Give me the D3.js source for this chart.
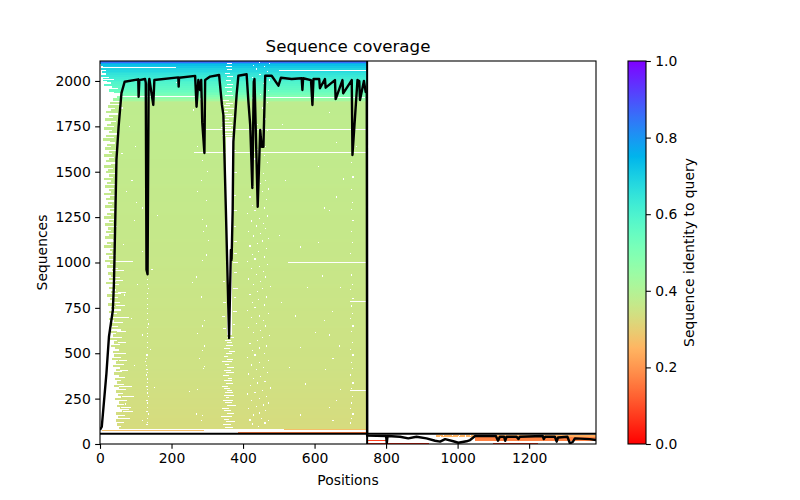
<!DOCTYPE html>
<html><head><meta charset="utf-8">
<script src="https://cdn.jsdelivr.net/npm/d3@7"></script>
<style>html,body{margin:0;background:#fff}svg{display:block}text{font-family:"DejaVu Sans",sans-serif;fill:#000}</style>
</head><body><div id="c"></div>
<script>
const titleText="Sequence coverage", xLabel="Positions", yLabel="Sequences", cbLabel="Sequence identity to query";
const xTicks=[0,200,400,600,800,1000,1200];
const yTicks=[0,250,500,750,1000,1250,1500,1750,2000];
const cbTicks=[0,0.2,0.4,0.6,0.8,1.0];
const queryLength=747, blockBoundary=56, rowBase=85, rowStep=10;
// identity by alignment depth
const identityRows=[85,200,400,700,1000,1500,1885,1908,1930,1960,2000,2040,2070,2090,2100,2110];
const identityVals=[0.33,0.335,0.345,0.352,0.36,0.37,0.378,0.46,0.52,0.56,0.60,0.65,0.69,0.73,0.77,0.86];
// where each row starts, bottom row first
const rowStarts=[52,60,48,66,45,58,50,71,44,62,80,55,47,68,52,76,42,60,50,64,46,72,54,40,66,48,58,43,70,52,38,62,46,56,36,68,44,50,34,60,40,72,35,54,42,
30,56,38,48,27,62,36,44,31,58,33,50,28,64,40,26,52,34,47,24,60,30,42,22,55,36,28,49,20,58,32,44,24,38,52,18,46,26,56,30,21,42,34,50,19,36,28,
13,38,24,46,16,34,28,42,12,30,20,44,36,15,26,40,18,32,22,48,14,36,25,42,11,30,19,38,27,44,13,34,21,40,17,28,46,12,32,24,38,15,42,20,30,10,36,26,44,16,
22,36,12,30,44,18,26,40,10,34,24,46,14,32,20,42,28,8,38,16,48,24,34,12,40,20,30,44,14,36,26,50,18,32,42,22,55,28,60,35,
48,56,60,40,26,50,34,12,30,20,8,24,4,16,6,18,3,8,2,0,0];
// extra short alignments [from,to,rowLow,rowHigh,identity]
const lowBlocks=[[5,290,70,75,0.27],[387,747,63,68,0.16],[515,747,76,81,0.27],
[940,1387,38,50,0.25],[1050,1387,14,38,0.17],[1090,1387,38,50,0.24],
[747,805,16,21,0.08],[747,920,3,8,0.05],[1100,1225,3,8,0.08]];
// long missing stretches [from,to,row]
const whiteLines=[[3,210,2075],[500,745,2060],[3,40,2010],[60,265,1917],[462,742,1910],[297,745,1735],[263,745,1607],[527,745,1005],[42,93,1006],[700,745,788],[700,745,297],[290,387,72],[387,420,70]];
// solid missing stretches [from,to,rowLow,rowHigh]
const whiteBlocks=[[352,372,1070,1690],[356,368,600,1070]];
// missing fragments [from,to,row]
const whiteSpans=[[350,372,95],[343,366,110],[352,378,125],[346,362,140],[338,370,155],[356,374,170],[348,366,185],[342,360,200],[355,380,215],[350,368,230],[344,372,245],[352,362,260],[346,376,272],[350,372,285],[354,368,298],[348,364,310],[340,358,322],[352,372,335],[346,368,350],[358,370,365],[344,360,380],[352,374,395],[348,366,410],[356,376,425],[350,362,440],[342,368,455],[354,372,470],[348,358,485],[352,370,500],[360,378,515],[346,364,530],[352,372,545],[356,368,560],[350,366,575],[354,374,590],
[345,352,640],[372,378,660],[340,350,705],[373,384,735],[343,352,780],[374,380,810],[372,386,860],[345,350,900],[374,382,950],[372,385,1000],[376,382,1050],[374,384,1120],[376,380,1200],[373,382,1290],[350,356,1330],[374,380,1370],[348,354,1420],[376,384,1500],[352,358,1560],[374,380,1620],
[340,372,1700],[344,368,1715],[348,376,1730],[338,366,1745],[350,372,1760],[342,370,1775],[346,362,1790],[352,376,1805],[344,368,1820],[340,358,1835],[350,374,1850],[346,364,1865],[352,372,1880],[340,362,1895],[350,372,1925],[354,368,1945],[350,368,1965],[356,372,1985],[352,366,2005],[354,372,2025],[350,364,2045],[356,370,2065],[352,370,2085],[354,370,2097],
[54,90,322],[62,96,262],[64,92,180],[58,84,142],[60,88,205],[56,78,405],[54,76,465],[50,74,560],[48,72,620],[52,80,700],[46,70,768],[50,74,835],[44,64,905],[42,66,960]];
// isolated missing residues, as pos,row pairs
const whiteDots=[[130,105],[132,118],[131,140],[133,165],[130,180],[131,200],[132,225],[130,240],[133,262],[131,280],[132,300],[130,318],[132,340],[131,358],[129,380],[132,395],[130,410],[128,430],[126,455],[128,470],[130,490],[131,530],[132,560],[131,590],[132,610],[131,640],[133,660],[132,685],[131,720],[132,745],[131,770],[132,800],[131,830],[133,855],[131,880],[132,905],
[425,110],[442,95],[460,115],[418,132],[450,140],[470,128],[428,160],[445,170],[462,185],[415,195],[436,205],[455,215],[470,225],[422,240],[445,250],[465,262],[412,275],[432,285],[452,295],[474,308],[420,322],[440,335],[460,345],[428,360],[448,372],[415,385],[468,395],[435,408],[455,420],[422,435],[445,448],[470,460],[412,475],[432,490],[458,500],[425,515],[445,528],[465,540],[418,555],[438,570],[452,585],[472,598],[428,612],[448,625],[415,640],[462,650],[435,665],[455,680],[422,695],[445,705],[470,720],[412,735],[432,750],[458,765],[425,780],[442,795],[465,810],[418,825],[438,840],[452,855],[475,868],[428,880],[448,895],[415,908],[462,920],[435,935],[455,950],[422,965],[445,978],[468,990],[412,1005],[432,1018],[458,1030],[425,1045],[442,1060],[465,1075],[418,1090],[438,1105],[452,1118],[470,1130],[428,1145],[448,1158],[415,1172],[462,1185],[435,1200],[455,1215],[422,1228],[445,1240],[468,1255],[412,1270],[432,1285],[458,1300],[425,1315],[442,1330],[465,1345],[418,1360],[438,1375],[452,1390],[470,1405],[428,1420],[448,1435],[462,1450],[435,1470],[455,1490],[425,1510],[445,1530],[468,1550],[432,1570],[458,1590],[438,1620],[462,1640],[428,1670],[450,1700],[468,1730],[440,1760],[462,1790],[432,1820],[452,1850],[466,1880],[424,1905],[448,1925],[470,1945],[430,1965],[456,1985],[472,2005],[426,2020],[446,2035],[466,2050],[436,2065],[458,2080],[472,2095],[444,2100],[428,2085],
[282,130],[284,155],[268,165],[248,290],[270,300],[288,415],[292,425],[276,470],[285,515],[290,540],[270,610],[284,650],[290,680],[258,890],[282,810],[268,920],[284,1010],[296,1040],[302,1120],[288,1170],[296,1200],[284,1235],[296,1340],[270,1390],[282,1450],[300,1500],[284,1560],[270,1640],[290,1700],[260,1840],[280,1900],
[210,2075],[212,1990],[60,1850],[82,1750],[98,1640],[60,1600],[88,1450],[72,1390],[100,1330],[118,1300],[160,1260],[94,1230],[64,1100],[118,1060],[144,960],[104,880],[66,820],[86,690],[118,600],[140,520],[96,430],[150,310],[70,220],[118,130],
[560,160],[572,330],[528,420],[560,530],[600,615],[544,705],[505,780],[580,860],[620,925],[558,1085],[500,1150],[640,1285],[660,1360],[518,1450],[610,1530],[660,1660],[508,1760],[640,1825],[590,1880],[680,1940],
[700,115],[702,140],[706,165],[698,195],[702,225],[704,260],[702,305],[706,335],[700,380],[704,415],[702,450],[706,490],[700,520],[704,560],[702,620],[706,650],[700,690],[704,720],[702,760],[706,800],[700,850],[704,880],[702,930],[706,1000],[700,1050],[704,1110],[702,1170],[706,1230],[702,1290],[704,1330],[702,1400],[706,1470],[702,1550],[704,1600],
[650,130],[640,200],[660,240],[670,300],[628,410],[650,470],[668,540],[640,600],[625,680],[648,730],[670,860],[610,1110],[625,1300],[680,1460],[715,1640],
[960,47],[985,45],[1005,47],[1020,44],[1035,48],[1045,43],[950,42],[1000,41]];
// coverage line
const coveragePos=[0,5,18,25,36,39,41,46,52,60,69,107,108,110,126,128,130,133,136,138,149,152,219,220,221,266,270,275,280,283,286,292,294,308,333,341,345,352,361,366,368,371,373,382,387,410,415,420,426,430,432,441,448,452,457,462,480,499,506,536,564,566,568,590,594,597,613,615,629,631,657,659,678,680,704,706,720,725,727,738,743,746,
747,800,802,804,839,862,885,913,937,951,965,988,1002,1025,1035,1049,1107,1113,1118,1130,1133,1137,1165,1170,1174,1238,1241,1245,1272,1277,1281,1307,1314,1322,1328,1370,1387];
const coverageVal=[77,95,389,591,738,887,1069,1565,1748,1933,1996,2009,1913,2005,2011,1990,960,935,1980,2011,1868,2005,2020,1969,2018,2028,1858,2005,1950,2005,1769,1603,2005,2024,2033,1868,1813,1289,584,1069,1014,1289,1666,1923,2029,2037,1886,1758,1410,1996,2011,1307,1730,1638,1638,2029,2029,1974,2018,2011,2015,1950,2015,2005,1868,2011,2011,1960,2011,1963,2005,1900,2005,1932,2005,1592,2005,2000,1895,2000,1939,1939,
46,44,4,44,40,31,40,31,18,13,27,15,7,15,22,44,44,18,40,40,18,40,40,27,40,44,27,40,40,13,36,40,4,11,31,27,22];
const RB=t=>{const x=1-t;return d3.rgb(255*Math.min(1,Math.abs(2*x-0.5)),255*Math.sin(Math.PI*x),255*Math.cos(Math.PI*x/2));};
const W=800,H=500,L=100,R=596,T=61,B=444;
const svg=d3.select("#c").append("svg").attr("width",W).attr("height",H);
const x=d3.scaleLinear().domain([0,1387]).range([L,R]);
const y=d3.scaleLinear().domain([0,2110]).range([B,T]);
const idAt=d3.scaleLinear().domain(identityRows).range(identityVals).clamp(true);
svg.append("defs").append("clipPath").attr("id","pa").append("rect").attr("x",L).attr("y",T).attr("width",R-L).attr("height",B-T);
const plot=svg.append("g").attr("clip-path","url(#pa)");
const heat=plot.append("g").attr("shape-rendering","crispEdges");
const rowOf=i=>rowBase+i*rowStep;
heat.selectAll("rect.r").data(rowStarts).join("rect").attr("class","r")
 .attr("x",d=>x(d)).attr("width",d=>x(queryLength)-x(d))
 .attr("y",(d,i)=>y(rowOf(i)+rowStep)).attr("height",(d,i)=>y(rowOf(i))-y(rowOf(i)+rowStep)+0.6)
 .attr("fill",(d,i)=>RB(idAt(rowOf(i)+rowStep/2)));
const snap=v=>Math.round(v);
heat.selectAll("rect.b").data(lowBlocks).join("rect").attr("class","b")
 .attr("x",d=>x(d[0])).attr("width",d=>x(d[1])-x(d[0]))
 .attr("y",d=>snap(y(d[3]))).attr("height",d=>Math.max(1,snap(y(d[2]))-snap(y(d[3]))))
 .attr("fill",d=>RB(d[4]));
heat.selectAll("rect.wb").data(whiteBlocks).join("rect").attr("class","wb").attr("fill","#fff")
 .attr("x",d=>x(d[0])).attr("width",d=>x(d[1])-x(d[0])).attr("y",d=>y(d[3])).attr("height",d=>y(d[2])-y(d[3]));
heat.selectAll("rect.wl").data(whiteLines).join("rect").attr("class","wl").attr("fill","#fff")
 .attr("x",d=>x(d[0])).attr("width",d=>x(d[1])-x(d[0])).attr("y",d=>snap(y(d[2]))).attr("height",1);
heat.selectAll("rect.ws").data(whiteSpans).join("rect").attr("class","ws").attr("fill","#fff")
 .attr("x",d=>x(d[0])).attr("width",d=>x(d[1])-x(d[0])).attr("y",d=>snap(y(d[2]))).attr("height",1);
heat.selectAll("rect.wd").data(whiteDots).join("rect").attr("class","wd").attr("fill","#fff")
 .attr("x",d=>x(d[0])).attr("width",x(3)-x(0)).attr("y",d=>y(d[1]+4)).attr("height",y(0)-y(7));
const line=d3.line().x(d=>x(d[0])).y(d=>y(d[1]));
plot.append("path").datum(coveragePos.map((p,i)=>[p,coverageVal[i]])).attr("d",line).attr("fill","none").attr("stroke","#000").attr("stroke-width",2.4).attr("stroke-linejoin","round");
plot.append("line").attr("x1",x(queryLength)).attr("x2",x(queryLength)).attr("y1",T).attr("y2",B).attr("stroke","#000").attr("stroke-width",2);
plot.append("line").attr("x1",L).attr("x2",R).attr("y1",y(blockBoundary)).attr("y2",y(blockBoundary)).attr("stroke","#000").attr("stroke-width",2);
const lw=1.1, fs="13.9px", ts=4.86;
function styleAxis(g){g.selectAll("text").style("font-size",fs).style("font-family",'"DejaVu Sans"').attr("fill","#000");g.selectAll("line").attr("stroke","#000").attr("stroke-width",lw);g.select(".domain").remove();}
svg.append("g").attr("transform",`translate(0,${B})`).call(d3.axisBottom(x).tickValues(xTicks).tickSize(ts).tickPadding(4.4).tickFormat(d3.format("d"))).call(styleAxis);
svg.append("g").attr("transform",`translate(${L},0)`).call(d3.axisLeft(y).tickValues(yTicks).tickSize(ts).tickPadding(4.4).tickFormat(d3.format("d"))).call(styleAxis);
svg.append("rect").attr("x",L).attr("y",T).attr("width",R-L).attr("height",B-T).attr("fill","none").attr("stroke","#000").attr("stroke-width",lw);
svg.append("text").attr("x",(L+R)/2).attr("y",T-9).attr("text-anchor","middle").style("font-size","16.67px").text(titleText);
svg.append("text").attr("x",(L+R)/2).attr("y",485).attr("text-anchor","middle").style("font-size",fs).text(xLabel);
svg.append("text").attr("transform",`translate(47,${(T+B)/2}) rotate(-90)`).attr("text-anchor","middle").style("font-size",fs).text(yLabel);
// colorbar
const cbX0=628,cbX1=646;
const cb=d3.scaleLinear().domain([0,1]).range([B,T]);
const grad=svg.select("defs").append("linearGradient").attr("id","cbg").attr("x1",0).attr("x2",0).attr("y1",1).attr("y2",0);
grad.selectAll("stop").data(d3.range(0,257)).join("stop").attr("offset",d=>d/256).attr("stop-color",d=>RB(d/256).formatHex());
svg.append("rect").attr("x",cbX0).attr("y",T).attr("width",cbX1-cbX0).attr("height",B-T).attr("fill","url(#cbg)").attr("stroke","#000").attr("stroke-width",lw);
svg.append("g").attr("transform",`translate(${cbX1},0)`).call(d3.axisRight(cb).tickValues(cbTicks).tickSize(ts).tickPadding(4.4).tickFormat(d3.format(".1f"))).call(styleAxis);
svg.append("text").attr("transform",`translate(694,${(T+B)/2}) rotate(-90)`).attr("text-anchor","middle").style("font-size",fs).text(cbLabel);
</script></body></html>
